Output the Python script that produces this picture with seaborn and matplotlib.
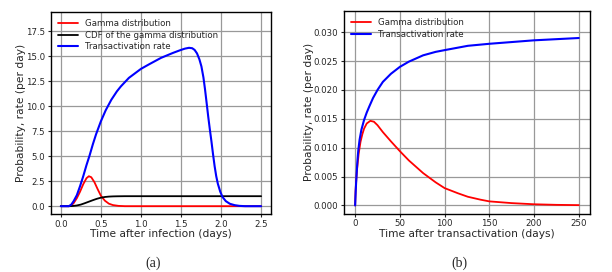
import pandas as pd
import matplotlib
matplotlib.use("Agg")
import matplotlib.pyplot as plt
import seaborn as sns

# panel (a): time after infection (days)
t_gamma_a = [0.0, 0.10, 0.13, 0.16, 0.20, 0.24, 0.28, 0.32, 0.35, 0.38, 0.42, 0.46, 0.50,
             0.55, 0.60, 0.65, 0.72, 0.80, 1.0, 1.5, 2.0, 2.5]
gamma_a = [0.0, 0.0, 0.08, 0.3, 0.8, 1.45, 2.2, 2.8, 3.0, 2.9, 2.4, 1.7, 1.05,
           0.55, 0.25, 0.11, 0.03, 0.0, 0.0, 0.0, 0.0, 0.0]

t_cdf_a = [0.0, 0.10, 0.15, 0.20, 0.25, 0.30, 0.35, 0.40, 0.45, 0.50, 0.55, 0.60,
           0.65, 0.70, 0.80, 1.0, 1.5, 2.0, 2.5]
cdf_a = [0.0, 0.0, 0.02, 0.07, 0.16, 0.30, 0.45, 0.60, 0.74, 0.85, 0.92, 0.96,
         0.98, 0.99, 1.0, 1.0, 1.0, 1.0, 1.0]

t_rate_a = [0.0, 0.10, 0.13, 0.16, 0.20, 0.24, 0.28, 0.32, 0.36, 0.40, 0.44, 0.50,
            0.56, 0.63, 0.70, 0.75, 0.85, 1.0, 1.1, 1.25, 1.4, 1.5, 1.55, 1.60,
            1.64, 1.67, 1.70, 1.73, 1.755, 1.78, 1.80, 1.82, 1.84, 1.86, 1.88, 1.90,
            1.92, 1.94, 1.96, 1.99, 2.02, 2.06, 2.11, 2.17, 2.23, 2.3, 2.5]
rate_a = [0.0, 0.0, 0.15, 0.5, 1.1, 2.0, 3.0, 4.1, 5.1, 6.2, 7.2, 8.5,
          9.6, 10.65, 11.5, 12.0, 12.85, 13.75, 14.2, 14.85, 15.35, 15.65, 15.78, 15.86,
          15.82, 15.65, 15.3, 14.7, 14.0, 12.9, 11.7, 10.35, 8.97, 7.7, 6.5, 5.2,
          4.0, 3.0, 2.25, 1.45, 0.9, 0.5, 0.24, 0.1, 0.03, 0.0, 0.0]

# panel (b): time after transactivation (days)
t_gamma_b = [0, 0.5, 1, 2, 4, 6, 8, 10, 13, 17, 21, 25, 31, 40, 50, 60, 76, 90, 100,
             115, 126, 140, 150, 175, 200, 225, 250]
gamma_b = [0.0, 0.0025, 0.0038, 0.0060, 0.0090, 0.0110, 0.0123, 0.0133, 0.0142, 0.01465,
           0.0145, 0.0139, 0.0127, 0.0111, 0.0094, 0.0078, 0.0056, 0.0040, 0.0030,
           0.0021, 0.0015, 0.0010, 0.0007, 0.0004, 0.0002, 0.0001, 0.00005]

t_rate_b = [0, 0.3, 0.7, 1, 1.5, 2.5, 3.5, 5, 7, 10, 13, 16, 20, 25, 31, 40, 50, 60,
            76, 90, 100, 126, 150, 175, 200, 225, 250]
rate_b = [0.0, 0.0012, 0.0026, 0.0036, 0.0050, 0.0076, 0.0095, 0.0114, 0.0131, 0.0148,
          0.0161, 0.0172, 0.0186, 0.0200, 0.0214, 0.0228, 0.0240, 0.0249,
          0.0260, 0.0266, 0.0269, 0.02765, 0.0280, 0.0283, 0.0286, 0.0288, 0.0290]

sns.set_style("ticks")
plt.rcParams['font.family'] = ['DejaVu Sans']

fig = plt.figure(figsize=(6.12, 2.72), dpi=100)
ax1 = fig.add_axes([0.083, 0.213, 0.360, 0.743])
ax2 = fig.add_axes([0.562, 0.214, 0.402, 0.746])

grid_kw = dict(color='#999999', linewidth=0.9)

sns.lineplot(x=t_gamma_a, y=gamma_a, ax=ax1, color='red', lw=1.3, label='Gamma distribution')
sns.lineplot(x=t_cdf_a, y=cdf_a, ax=ax1, color='black', lw=1.3, label='CDF of the gamma distribution')
sns.lineplot(x=t_rate_a, y=rate_a, ax=ax1, color='blue', lw=1.5, label='Transactivation rate')
ax1.set_xlim(-0.125, 2.625)
ax1.set_ylim(-0.79, 19.45)
ax1.set_xticks([0.0, 0.5, 1.0, 1.5, 2.0, 2.5])
ax1.set_yticks([0.0, 2.5, 5.0, 7.5, 10.0, 12.5, 15.0, 17.5])
ax1.set_xlabel('Time after infection (days)', fontsize=7.7, labelpad=0.5)

sns.lineplot(x=t_gamma_b, y=gamma_b, ax=ax2, color='red', lw=1.3, label='Gamma distribution')
sns.lineplot(x=t_rate_b, y=rate_b, ax=ax2, color='blue', lw=1.5, label='Transactivation rate')
ax2.set_xlim(-12.5, 262.5)
ax2.set_ylim(-0.00145, 0.0337)
ax2.set_xticks([0, 50, 100, 150, 200, 250])
ax2.set_yticks([0.0, 0.005, 0.01, 0.015, 0.02, 0.025, 0.03])
ax2.yaxis.set_major_formatter(matplotlib.ticker.FormatStrFormatter('%.3f'))
ax2.set_xlabel('Time after transactivation (days)', fontsize=7.7, labelpad=0.5)

for ax in (ax1, ax2):
    ax.grid(True, **grid_kw)
    ax.set_ylabel('Probability, rate (per day)', fontsize=7.7, labelpad=0)
    ax.tick_params(labelsize=6.2, length=2.5, width=0.8, pad=1.5)
    for s in ax.spines.values():
        s.set_linewidth(1.0)
        s.set_color('black')
    ax.legend(loc='upper left', frameon=False, fontsize=6.2, handlelength=2.3,
              borderaxespad=0.45, labelspacing=0.3)

fig.text(0.251, 0.018, '(a)', fontsize=10, family='Liberation Serif', ha='center')
fig.text(0.750, 0.018, '(b)', fontsize=10, family='Liberation Serif', ha='center')

fig.savefig('out.png', dpi=100)
